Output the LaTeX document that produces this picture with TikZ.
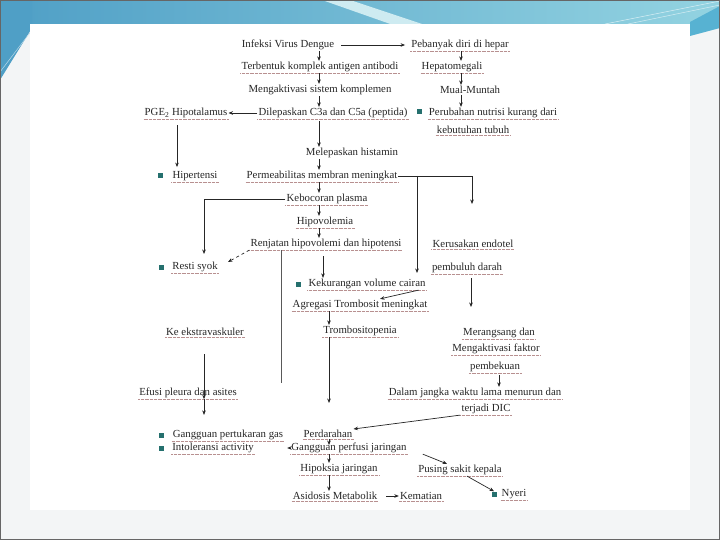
\documentclass[tikz,border=0pt]{standalone}
\usepackage{fontspec}
\setmainfont{Liberation Serif}
\usetikzlibrary{arrows.meta}
\definecolor{bgc}{HTML}{F3F5F6}
\definecolor{topL}{HTML}{4F9FC6}
\definecolor{topR}{HTML}{93D3E1}
\definecolor{blueD}{HTML}{57B2D2}
\definecolor{bulc}{HTML}{25706E}
\definecolor{ulc}{HTML}{B89090}
\begin{document}
\begin{tikzpicture}[x=1pt,y=-1pt,
  t/.style={font=\fontsize{10.8}{12}\selectfont, inner sep=1pt, text=black!85},
  u/.style={t, append after command={(\tikzlastnode.south west) edge[draw=ulc, line width=0.3pt, densely dotted] (\tikzlastnode.south east)}},
  bul/.style={fill=bulc, minimum size=5pt, inner sep=0pt},
  ar/.style={-{Stealth[length=4.5pt,width=3.6pt]}, line width=0.7pt, draw=black!85},
  ln/.style={line width=0.7pt, draw=black!65}]
\useasboundingbox (0,0) rectangle (720,540);
% background
\fill[bgc] (0,0) rectangle (720,540);
\shade[left color=topL, right color=topR] (0,0) rectangle (720,26);
\fill[topL] (0,0) -- (32,0) -- (32,28) -- (0,80) -- cycle;
\draw[white!60!topL, line width=0.5pt] (0,72) -- (32,30);
\fill[white!55!topR] (322,0) -- (350,0) -- (428,26) -- (396,26) -- cycle;
\fill[blueD] (690,22) -- (720,6) -- (720,28) -- (690,36) -- cycle;
\draw[white!60!topR, line width=0.5pt] (605,24) -- (720,1) (628,24) -- (720,5);
\fill[white] (30,24) rectangle (690,510);
\draw[black!60, line width=1pt] (0.5,0.5) rectangle (719.5,539.5);
% column coordinates
\coordinate (cA) at (319,0);
\coordinate (cB) at (461,0);
\coordinate (cP) at (177,0);
\coordinate (cR) at (323,0);
\coordinate (cT) at (329,0);
\coordinate (cK) at (471,0);
\coordinate (cM) at (499,0);
\coordinate (cE) at (204,0);
\coordinate (vsplit) at (417,0);
\coordinate (kend) at (472,204);
\coordinate (kekend) at (417,273);
\coordinate (rend) at (204,254);
\coordinate (dashend) at (228,262);
\coordinate (lend) at (281,383);
\coordinate (tend) at (329,403);
\coordinate (mend) at (471,307);
% nodes
\node[t] (inf) at (288,45) {Infeksi Virus Dengue};
\node[u] (hep) at (460,45) {Pebanyak diri di hepar};
\node[u] (ter) at (320,67) {Terbentuk komplek antigen antibodi};
\node[u] (hpm) at (452,67) {Hepatomegali};
\node[t] (men) at (320,90) {Mengaktivasi sistem komplemen};
\node[t] (mual) at (470,90) {Mual-Muntah};
\node[u] (dil) at (333,113) {Dilepaskan C3a dan C5a (peptida)};
\node[u] (pge) at (186,113) {PGE\textsubscript{2} Hipotalamus};
\node[bul] (bp) at (419,112) {};
\node[u] (per1) at (493,113) {Perubahan nutrisi kurang dari};
\node[u] (per2) at (473,130) {kebutuhan tubuh};
\node[t] (mel) at (352,153) {Melepaskan histamin};
\node[bul] (bh) at (160,176) {};
\node[u] (hipt) at (195,176) {Hipertensi};
\node[u] (perm) at (322,176) {Permeabilitas membran meningkat};
\node[u] (keb) at (327,199) {Kebocoran plasma};
\node[u] (hipo) at (325,222) {Hipovolemia};
\node[u] (ren) at (326,244) {Renjatan hipovolemi  dan hipotensi};
\node[u] (ker1) at (473,244) {Kerusakan endotel};
\node[u] (ker2) at (467,268) {pembuluh darah};
\node[bul] (br) at (161,267) {};
\node[u] (resti) at (195,267) {Resti syok};
\node[bul] (bk) at (298,284) {};
\node[u] (kek) at (367,284) {Kekurangan volume cairan};
\node[u] (agr) at (360,305) {Agregasi Trombosit meningkat};
\node[u] (trom) at (360,331) {Trombositopenia};
\node[u] (eks) at (205,332) {Ke ekstravaskuler};
\node[u] (mer) at (499,333) {Merangsang dan};
\node[u] (mfak) at (496,349) {Mengaktivasi faktor};
\node[u] (pemb) at (495,367) {pembekuan};
\node[u] (dal) at (475,393) {Dalam jangka waktu lama menurun dan};
\node[u] (dic) at (486,409) {terjadi DIC};
\node[u] (efu) at (188,393) {Efusi pleura dan asites};
\node[bul] (bg) at (161,435) {};
\node[u] (gpg) at (228,435) {Gangguan pertukaran gas};
\node[bul] (bi) at (161,448) {};
\node[u] (into) at (213,448) {Intoleransi activity};
\node[u] (perd) at (328,434) {Perdarahan};
\node[u] (gper) at (349,448) {Gangguan perfusi jaringan};
\node[u] (hipk) at (339,469) {Hipoksia jaringan};
\node[u] (pus) at (460,470) {Pusing sakit kepala};
\node[u] (asi) at (335,496) {Asidosis Metabolik};
\node[u] (kem) at (421,496) {Kematian};
\node[bul] (bn) at (494,494) {};
\node[u] (nyeri) at (514,494) {Nyeri};
% connectors
\draw[ar, shorten <=6pt, shorten >=5pt] (inf.east) -- (hep.west);
\draw[ar] (inf.south -| cA) -- (ter.north -| cA);
\draw[ar] (ter.south -| cA) -- (men.north -| cA);
\draw[ar] (men.south -| cA) -- (dil.north -| cA);
\draw[ar, shorten <=2pt] (dil.south -| cA) -- (mel.north -| cA);
\draw[ar] (mel.south -| cA) -- (perm.north -| cA);
\draw[ar] (perm.south -| cA) -- (keb.north -| cA);
\draw[ar] (keb.south -| cA) -- (hipo.north -| cA);
\draw[ar] (hipo.south -| cA) -- (ren.north -| cA);
\draw[ar] (hep.south -| cB) -- (hpm.north -| cB);
\draw[ar] (hpm.south -| cB) -- (mual.north -| cB);
\draw[ar] (mual.south -| cB) -- (per1.north -| cB);
\draw[ar] (dil.west) -- (pge.east);
\draw[ar, shorten <=6pt, shorten >=3pt] (pge.south -| cP) -- (hipt.north -| cP);
\draw[ar] (perm.east) -- (perm.east -| kend) -- (kend);
\draw[ar] (perm.east -| vsplit) -- (kekend);
\draw[ar] (keb.west) -| (rend);
\draw[ar, dashed] (ren.south west) -- (dashend);
\draw[ln] (ren.south -| lend) -- (lend);
\draw[ar, shorten <=6pt] (ren.south -| cR) -- (kek.north -| cR);
\draw[ar] ([xshift=-8pt]kek.south east) -- ([xshift=20pt]agr.north);
\draw[ar] (agr.south -| cT) -- (trom.north -| cT);
\draw[ar] (trom.south -| cT) -- (tend);
\draw[ar, shorten <=4pt] (ker2.south -| cK) -- (mend);
\draw[ar, shorten <=2pt] (pemb.south -| cM) -- (dal.north -| cM);
\draw[ar] (dic.south west) -- (perd.north east);
\draw[ar, shorten <=17pt] (eks.south -| cE) -- (efu.south -| cE);
\draw[ar, shorten >=14pt] (efu.south -| cE) -- (gpg.north -| cE);
\draw[ar, shorten <=5pt, shorten >=3pt] (perd.center -| cT) -- (gper.center -| cT);
\draw[ar] ([xshift=1pt]gper.west) -- ++(-4,0);
\draw[ar] (gper.south -| cT) -- (hipk.north -| cT);
\draw[ar] ([xshift=15pt]gper.south east) -- ([xshift=-13pt]pus.north);
\draw[ar] (hipk.south -| cT) -- (asi.north -| cT);
\draw[ar, shorten <=8pt] (asi.east) -- (kem.west);
\draw[ar] ([xshift=7pt]pus.south) -- (bn.north);
\end{tikzpicture}
\end{document}
